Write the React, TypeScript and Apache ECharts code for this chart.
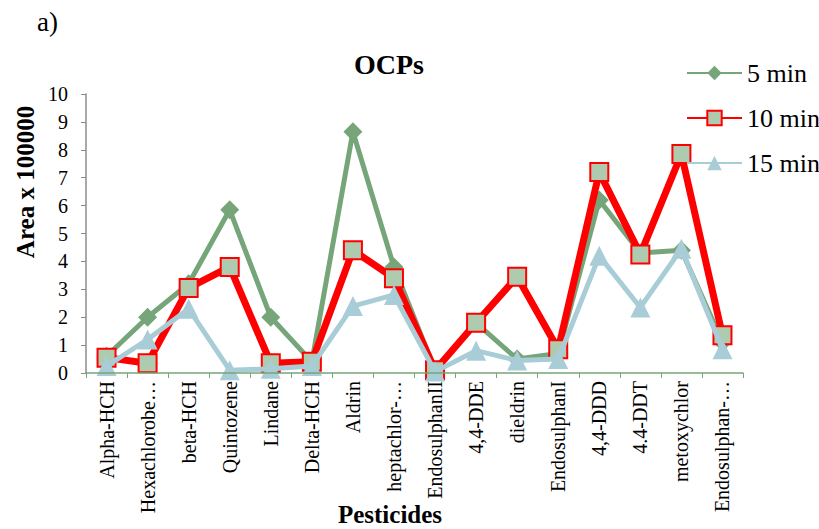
import React, { useEffect, useRef } from "react";
import * as echarts from "echarts";

const categories = [
  "Alpha-HCH",
  "Hexachlorobe…",
  "beta-HCH",
  "Quintozene",
  "Lindane",
  "Delta-HCH",
  "Aldrin",
  "heptachlor-…",
  "EndosulphanII",
  "4,4-DDE",
  "dieldrin",
  "EndosulphanI",
  "4,4-DDD",
  "4.4-DDT",
  "metoxychlor",
  "Endosulphan-…",
];

const min5 = [0.6, 2.0, 3.2, 5.85, 2.0, 0.4, 8.65, 3.8, 0.1, 1.8, 0.5, 0.7, 6.2, 4.3, 4.4, 1.1];
const min10 = [0.55, 0.35, 3.05, 3.8, 0.35, 0.4, 4.4, 3.4, 0.1, 1.8, 3.45, 0.85, 7.2, 4.25, 7.85, 1.35];
const min15 = [0.25, 1.2, 2.3, 0.1, 0.15, 0.25, 2.4, 2.8, 0.05, 0.8, 0.45, 0.5, 4.2, 2.35, 4.45, 0.85];

const seriesNames = ["5 min", "10 min", "15 min"];
const yTicks = [0, 10, 1];

const FONT = "'Liberation Serif', 'Times New Roman', serif";

export default function App() {
  const ref = useRef<HTMLDivElement>(null);
  useEffect(() => {
    if (!ref.current) return;
    const chart = echarts.init(ref.current, undefined, { renderer: "svg" });
    chart.setOption({
      animation: false,
      backgroundColor: "#ffffff",
      title: {
        text: "OCPs",
        left: 384,
        top: 45,
        textAlign: "center",
        textStyle: { fontFamily: FONT, fontSize: 28, fontWeight: "bold", color: "#000" },
      },
      legend: {
        orient: "vertical",
        left: 681,
        top: 55,
        itemWidth: 55,
        itemHeight: 18,
        itemGap: 19,
        textStyle: { fontFamily: FONT, fontSize: 26, color: "#000", lineHeight: 26 },
        data: seriesNames,
      },
      graphic: [
        {
          type: "text",
          left: 37,
          top: 8,
          style: { text: "a)", fontFamily: FONT, fontSize: 27, fill: "#000" },
        },
        {
          type: "text",
          x: 25,
          y: 182,
          rotation: Math.PI / 2,
          style: {
            text: "Area x 100000",
            fontFamily: FONT,
            fontSize: 25,
            fontWeight: "bold",
            fill: "#000",
            align: "center",
            verticalAlign: "middle",
          },
        },
        {
          type: "text",
          x: 390,
          y: 514,
          style: {
            text: "Pesticides",
            fontFamily: FONT,
            fontSize: 25,
            fontWeight: "bold",
            fill: "#000",
            align: "center",
            verticalAlign: "middle",
          },
        },
      ],
      grid: { left: 86, right: 76, top: 94, bottom: 156, containLabel: false },
      xAxis: {
        type: "category",
        data: categories,
        boundaryGap: true,
        axisLine: { lineStyle: { color: "#77A57A", width: 1.5 } },
        axisTick: { show: true, length: 5, lineStyle: { color: "#77A57A" }, alignWithLabel: false },
        axisLabel: {
          interval: 0,
          rotate: 90,
          fontFamily: FONT,
          fontSize: 20,
          color: "#000",
          margin: 8,
        },
        splitLine: { show: false },
        z: 10,
      },
      yAxis: {
        type: "value",
        min: yTicks[0],
        max: yTicks[1],
        interval: yTicks[2],
        axisLine: { show: true, lineStyle: { color: "#8c8c8c", width: 1.5 } },
        axisTick: { show: true, length: 5, inside: false, lineStyle: { color: "#8c8c8c" } },
        axisLabel: { fontFamily: FONT, fontSize: 20, color: "#000", margin: 18 },
        splitLine: { show: false },
      },
      series: [
        {
          name: seriesNames[0],
          type: "line",
          data: min5,
          symbol: "diamond",
          symbolSize: 19,
          lineStyle: { color: "#77A57A", width: 5 },
          itemStyle: { color: "#77A57A" },
          z: 2,
        },
        {
          name: seriesNames[1],
          type: "line",
          data: min10,
          symbol: "rect",
          symbolSize: 18,
          lineStyle: { color: "#FF0000", width: 7 },
          itemStyle: { color: "#AFCBAF", borderColor: "#FF0000", borderWidth: 2 },
          z: 3,
        },
        {
          name: seriesNames[2],
          type: "line",
          data: min15,
          symbol: "triangle",
          symbolSize: 20,
          lineStyle: { color: "#A9CDD7", width: 5 },
          itemStyle: { color: "#A9CDD7" },
          z: 4,
        },
      ],
    });
    return () => chart.dispose();
  }, []);
  return (
    <div
      ref={ref}
      style={{ position: "fixed", left: 0, top: 0, width: 819, height: 529 }}
    />
  );
}
